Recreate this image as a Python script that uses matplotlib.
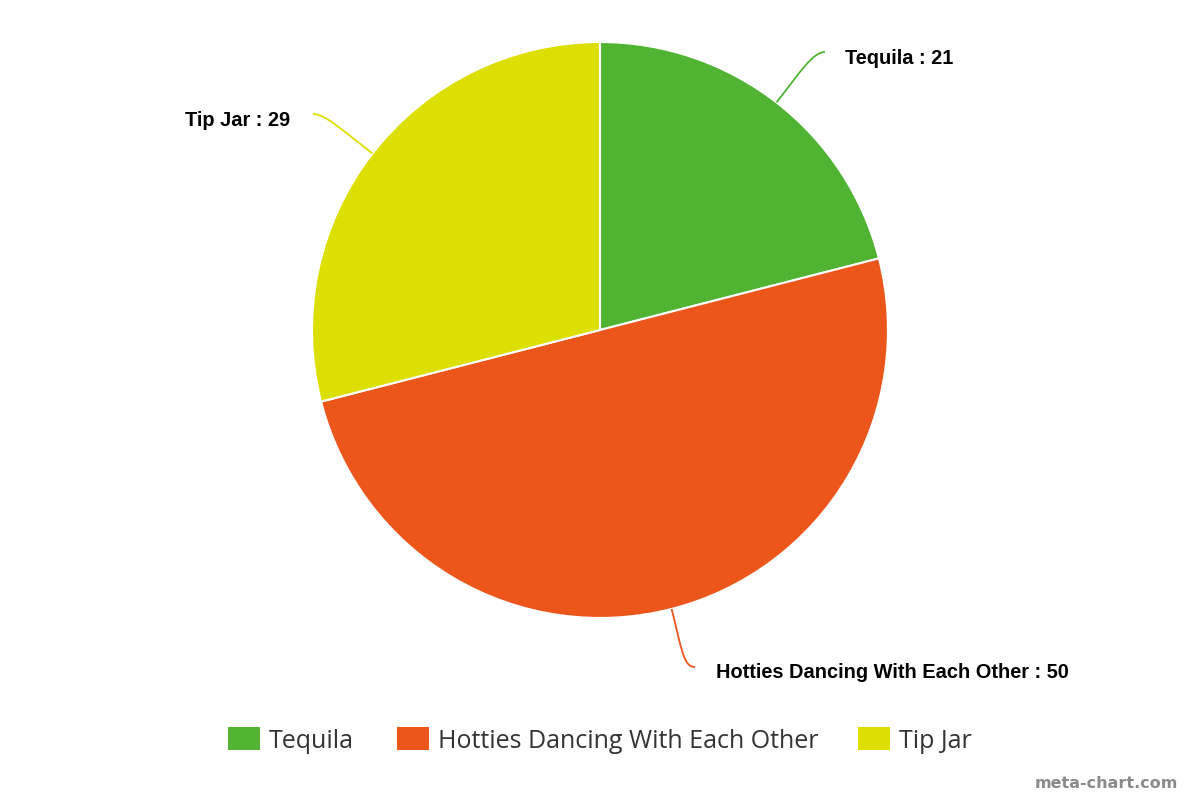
import numpy as np
import matplotlib.pyplot as plt
from matplotlib.path import Path
from matplotlib.patches import PathPatch, Rectangle

labels = ['Tequila', 'Hotties Dancing With Each Other', 'Tip Jar']
values = [21, 50, 29]
colors = ['#50B432', '#ED561B', '#DDDF00']

H = 800
fig = plt.figure(figsize=(12, 8), dpi=100)
ax = fig.add_axes([0, 0, 1, 1])

cx, cy, r = 600, H - 330, 288
wedges, _ = ax.pie(values, colors=colors, startangle=90, counterclock=False,
                   center=(cx, cy), radius=r, frame=True,
                   wedgeprops=dict(edgecolor='white', linewidth=1.5))
ax.set_xlim(0, 1200)
ax.set_ylim(0, H)
ax.set_aspect('equal')
ax.axis('off')

# connectors: (end point of the line in px, label anchor x, ha, label y)
conn = [((825, 52), 845, 'left', 58),
        ((695, 667), 716, 'left', 672),
        ((313, 114), 290, 'right', 120)]

total = sum(values)
start = 90.0
for w, lab, val, col, (end, tx, ha, ty) in zip(wedges, labels, values, colors, conn):
    span = val / total * 360
    mid = np.radians(start - span / 2)
    start -= span
    p0 = (cx + r * np.cos(mid), cy + r * np.sin(mid))
    p1 = (cx + (r + 40) * np.cos(mid), cy + (r + 40) * np.sin(mid))
    ex, ey = end[0], H - end[1]
    side = 1 if ha == 'left' else -1
    p2 = (ex - side * 12, ey)
    path = Path([p0, p1, p2, (ex, ey)],
                [Path.MOVETO, Path.CURVE4, Path.CURVE4, Path.CURVE4])
    ax.add_patch(PathPatch(path, fill=False, edgecolor=col, linewidth=1.3))
    ax.text(tx, H - ty, f'{lab} : {val}', ha=ha, va='center',
            family='Liberation Sans', fontweight='bold', fontsize=14.4,
            color='black')

# legend
lx = [228, 397, 858]
for x, lab, col in zip(lx, labels, colors):
    ax.add_patch(Rectangle((x, H - 750), 32, 23, facecolor=col, edgecolor='none'))
    ax.text(x + 41, H - 741, lab, ha='left', va='center', family='Open Sans',
            fontsize=18, color='#333333')

ax.text(1178, H - 784, 'meta-chart.com', ha='right', va='center',
        family='DejaVu Sans', fontweight='bold', fontsize=11.5, color='#8a8a8a')

fig.savefig('out.png', dpi=100, facecolor='white')
